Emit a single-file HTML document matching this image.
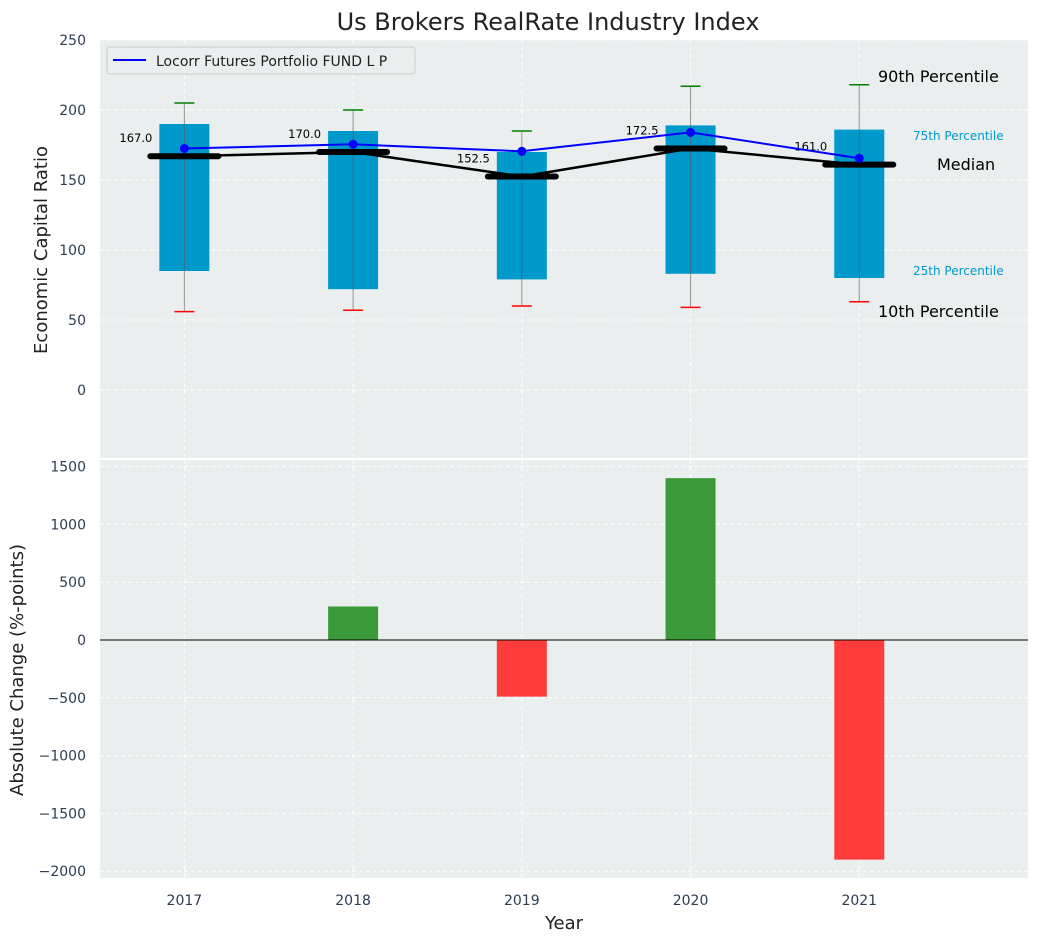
<!DOCTYPE html>
<html><head><meta charset="utf-8"><style>
body{margin:0;background:#fff;font-family:"Liberation Sans","DejaVu Sans",sans-serif;}
</style></head><body>
<svg id="c" width="1039" height="942" xmlns="http://www.w3.org/2000/svg" font-family="DejaVu Sans, Liberation Sans, sans-serif"></svg>
<script>
const years=[2017,2018,2019,2020,2021];
const p10=[56,57,60,59,63];
const p25=[85,72,79,83,80];
const p75=[190,185,170,189,186];
const p90=[205,200,185,217,218];
const medians=[167,170,152.5,172.5,161];
const fund=[172.5,175.5,170.5,184,165.5];
const changes=[0,290,-490,1400,-1900];
const topTicks=[0,50,100,150,200,250];
const botTicks=[-2000,-1500,-1000,-500,0,500,1000,1500];

const NS="http://www.w3.org/2000/svg";
const svg=document.getElementById('c');
function el(t,a,p){const e=document.createElementNS(NS,t);for(const k in a)e.setAttribute(k,a[k]);(p||svg).appendChild(e);return e;}
function txt(s,a,p){const e=el('text',a,p);e.textContent=s;return e;}
const L=100,R=1028;
const x=v=>L+(v-2016.5)*(R-L)/5.5;
const yT=v=>390-v*1.4;
const yB=v=>640-v*57.8/500;

let t=txt('Us Brokers RealRate Industry Index',{x:548,y:30,'font-size':24,'text-anchor':'middle',fill:'#222'});


let bg=el('rect',{x:L,y:40,width:R-L,height:418,fill:'#eaeeee'});

topTicks.forEach(v=>{
  el('line',{x1:L,x2:R,y1:yT(v),y2:yT(v),stroke:'#fff','stroke-dasharray':'4,3','stroke-width':1});
  const tl=txt(v,{x:86,y:yT(v)+5,'font-size':14,'text-anchor':'end',fill:'#2d3e50'});
  
});
years.forEach(yr=>el('line',{x1:x(yr),x2:x(yr),y1:40,y2:458,stroke:'#fff','stroke-dasharray':'4,3'}));
let bg2=el('rect',{x:L,y:460,width:R-L,height:418,fill:'#eaeeee'});

botTicks.forEach(v=>{
  el('line',{x1:L,x2:R,y1:yB(v),y2:yB(v),stroke:'#fff','stroke-dasharray':'4,3'});
  const tl=txt(v<0?'\u2212'+(-v):v,{x:86,y:yB(v)+5,'font-size':14,'text-anchor':'end',fill:'#2d3e50'});
  
});
years.forEach(yr=>{
  el('line',{x1:x(yr),x2:x(yr),y1:460,y2:878,stroke:'#fff','stroke-dasharray':'4,3'});
  const tl=txt(yr,{x:x(yr),y:905,'font-size':14,'text-anchor':'middle',fill:'#2d3e50'});
  
});

years.forEach((yr,i)=>{
  const cx=x(yr);
  const b=el('rect',{x:cx-25,y:yT(p75[i]),width:50,height:yT(p25[i])-yT(p75[i]),fill:'#0099cc'});
  
  el('line',{x1:cx,x2:cx,y1:yT(p90[i]),y2:yT(p10[i]),stroke:'#555','stroke-width':1,opacity:0.6});
  const c1=el('line',{x1:cx-10,x2:cx+10,y1:yT(p90[i]),y2:yT(p90[i]),stroke:'green','stroke-width':1.5});
  
  const c2=el('line',{x1:cx-10,x2:cx+10,y1:yT(p10[i]),y2:yT(p10[i]),stroke:'red','stroke-width':1.5});
  
});
const ml=el('polyline',{points:years.map((yr,i)=>x(yr)+','+yT(medians[i])).join(' '),fill:'none',stroke:'#000','stroke-width':2.5});

years.forEach((yr,i)=>{
  const m=el('line',{x1:x(yr)-34,x2:x(yr)+34,y1:yT(medians[i]),y2:yT(medians[i]),stroke:'#000','stroke-width':6,'stroke-linecap':'round'});
  
  const l=txt(medians[i].toFixed(1),{x:x(yr)-32,y:yT(medians[i])-14,'font-size':11.5,'text-anchor':'end',fill:'#000'});
  
});
const fl=el('polyline',{points:years.map((yr,i)=>x(yr)+','+yT(fund[i])).join(' '),fill:'none',stroke:'#0000ff','stroke-width':2});

years.forEach((yr,i)=>{
  const d=el('circle',{cx:x(yr),cy:yT(fund[i]),r:4.5,fill:'#0000ff'});
  
});
[['90th Percentile',878,82,16,'#000'],['75th Percentile',913,140,12,'#0099cc'],['Median',937,170,16,'#000'],['25th Percentile',913,275,12,'#0099cc'],['10th Percentile',878,317,16,'#000']].forEach(a=>{
  const e=txt(a[0],{x:a[1],y:a[2],'font-size':a[3],fill:a[4]});
  
});
const lg=el('g',{});

el('rect',{x:107,y:47,width:308,height:27,rx:3,fill:'#eaeeee',stroke:'#ccc'},lg);
el('line',{x1:113,x2:146,y1:60,y2:60,stroke:'#0000ff','stroke-width':2},lg);
txt('Locorr Futures Portfolio FUND L P',{x:156,y:66,'font-size':14,fill:'#222'},lg);

years.forEach((yr,i)=>{
  const v=changes[i];
  const r=el('rect',{x:x(yr)-25,y:Math.min(yB(v),yB(0)),width:50,height:Math.abs(yB(v)-yB(0)),fill:v>=0?'#3a9a3a':'#ff3c3c'});
  
});
el('line',{x1:L,x2:R,y1:yB(0),y2:yB(0),stroke:'#000','stroke-width':1});

let a1=txt('Economic Capital Ratio',{x:0,y:0,'font-size':18,'text-anchor':'middle',fill:'#222',transform:'translate(47,250) rotate(-90)'});

let a2=txt('Absolute Change (%-points)',{x:0,y:0,'font-size':18,'text-anchor':'middle',fill:'#222',transform:'translate(23,670) rotate(-90)'});

let a3=txt('Year',{x:564,y:929,'font-size':18,'text-anchor':'middle',fill:'#222'});

</script>
</body></html>
